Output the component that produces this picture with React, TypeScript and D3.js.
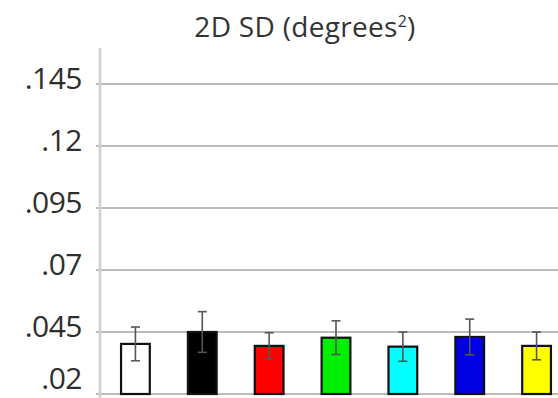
import React from "react";
import * as d3 from "d3";

const categories = ["white", "black", "red", "green", "cyan", "blue", "yellow"];
const barColors = ["#ffffff", "#000000", "#ff0000", "#00ee00", "#00ffff", "#0000e0", "#ffff00"];
const means = [0.0402, 0.045, 0.0394, 0.0427, 0.0391, 0.043, 0.0394];
const errors = [0.0068, 0.0082, 0.0053, 0.0068, 0.0059, 0.0072, 0.0056];
const tickValues = [0.02, 0.045, 0.07, 0.095, 0.12, 0.145];
const tickLabels = [".02", ".045", ".07", ".095", ".12", ".145"];
const title = "2D SD (degrees";

const W = 558;
const H = 398;

export default function App() {
  const x = d3
    .scaleBand<string>()
    .domain(categories)
    .range([102, 570])
    .paddingInner(0.57)
    .paddingOuter(0.285);
  const y = d3.scaleLinear().domain([0.02, 0.145]).range([394, 84]);
  const font = "'Open Sans', 'Noto Sans', sans-serif";
  const bw = x.bandwidth();
  const cap = 4.5;

  return (
    <svg
      width={W}
      height={H}
      style={{ position: "absolute", left: 0, top: 0, background: "#fff" }}
    >
      {tickValues.map((v, i) => (
        <g key={i}>
          <line x1={96} x2={W} y1={y(v)} y2={y(v)} stroke="#bbbbbb" strokeWidth={2} />
          <text
            x={82}
            y={Math.min(y(v) + 5, 389)}
            textAnchor="end"
            fontFamily={font}
            fontSize={30}
            fill="#2e2e2e"
            letterSpacing={-0.5}
          >
            {tickLabels[i]}
          </text>
        </g>
      ))}
      <line x1={100} x2={100} y1={y(0.1595)} y2={H} stroke="#cfcfcf" strokeWidth={2.5} />
      <text
        x={305}
        y={37}
        textAnchor="middle"
        fontFamily={font}
        fontSize={28}
        fill="#333"
        letterSpacing={0.3}
      >
        {title}
        <tspan dy={-10} fontSize={16}>2</tspan>
        <tspan dy={10}>)</tspan>
      </text>
      {categories.map((c, i) => {
        const x0 = x(c) as number;
        const cx = x0 + bw / 2;
        return (
          <g key={c}>
            <rect
              x={x0}
              y={y(means[i])}
              width={bw}
              height={y(0.02) - y(means[i])}
              fill={barColors[i]}
              stroke="#111"
              strokeWidth={2.2}
            />
            <line
              x1={cx}
              x2={cx}
              y1={y(means[i] + errors[i])}
              y2={y(means[i] - errors[i])}
              stroke="#555"
              strokeWidth={1.6}
            />
            <line
              x1={cx - cap}
              x2={cx + cap}
              y1={y(means[i] + errors[i])}
              y2={y(means[i] + errors[i])}
              stroke="#555"
              strokeWidth={1.6}
            />
            <line
              x1={cx - cap}
              x2={cx + cap}
              y1={y(means[i] - errors[i])}
              y2={y(means[i] - errors[i])}
              stroke="#555"
              strokeWidth={1.6}
            />
          </g>
        );
      })}
    </svg>
  );
}
